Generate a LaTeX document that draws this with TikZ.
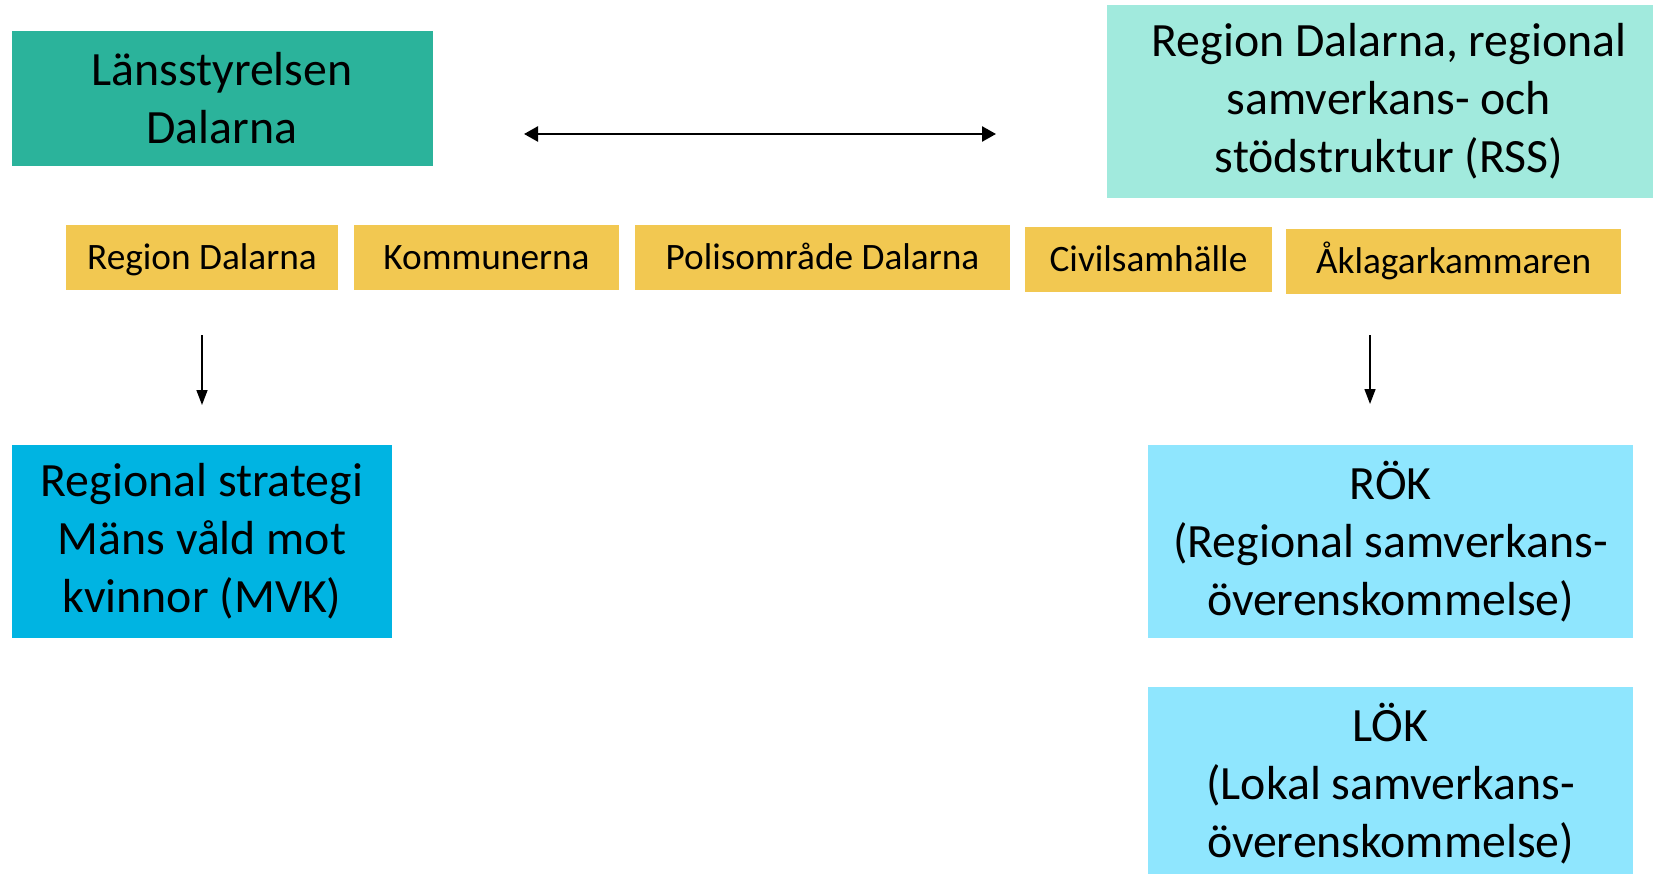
\documentclass[tikz,border=0pt]{standalone}
\usepackage{fontspec}
\setmainfont{Carlito}
\usetikzlibrary{arrows.meta}
\definecolor{lanscol}{RGB}{43,179,155}
\definecolor{rsscol}{RGB}{161,234,221}
\definecolor{yelcol}{RGB}{242,200,81}
\definecolor{mvkcol}{RGB}{0,180,226}
\definecolor{rokcol}{RGB}{143,230,254}
\tikzset{
  bigbox/.style={inner sep=0pt, outer sep=0pt, align=center, text=black, font=\fontsize{47.8}{58}\selectfont},
  smallbox/.style={inner sep=0pt, outer sep=0pt, align=center, text=black, fill=yelcol, minimum height=65pt, text height=30pt, text depth=5.2pt, font=\fontsize{37.3}{44}\selectfont},
  dblarrow/.style={line width=2.5pt, {Triangle[length=14pt,width=15pt]}-{Triangle[length=14pt,width=15pt]}},
  downarrow/.style={line width=1.5pt, -{Triangle[length=15pt,width=11pt]}}
}
\begin{document}
\begin{tikzpicture}[x=1pt,y=-1pt]
\clip (0,0) rectangle (1653,874);
\fill[white] (0,0) rectangle (1653,874);
\node[bigbox, fill=lanscol, minimum width=421pt, minimum height=135pt] (lans) at (222,98.5) {Länsstyrelsen\\Dalarna};
\node[bigbox, fill=rsscol, minimum width=564pt, minimum height=193pt] (rss) at (1389,101.5) {Region Dalarna, regional\\samverkans- och\\stödstruktur (RSS)};
\coordinate (da) at (524,134);
\coordinate (db) at (996,134);
\draw[dblarrow] (da) -- (db);
\node[smallbox, minimum width=272pt] (y1) at (202,257.5) {Region Dalarna};
\node[smallbox, minimum width=265pt] (y2) at (486.5,257.5) {Kommunerna};
\node[smallbox, minimum width=375pt] (y3) at (822.5,257.5) {Polisområde Dalarna};
\node[smallbox, minimum width=247pt] (y4) at (1148.5,259.5) {Civilsamhälle};
\node[smallbox, minimum width=335pt] (y5) at (1453.5,261.5) {Åklagarkammaren};
\coordinate (la) at (202,335);
\coordinate (lb) at (202,405);
\coordinate (ra) at (1370,335);
\coordinate (rb) at (1370,404);
\draw[downarrow] (la) -- (lb);
\draw[downarrow] (ra) -- (rb);
\node[bigbox, fill=mvkcol, minimum width=380pt, minimum height=193pt] (mvk) at (202,541.5) {Regional strategi\\Mäns våld mot\\kvinnor (MVK)};
\node[bigbox, fill=rokcol, minimum width=485pt, minimum height=193pt] (rok) at (1390.5,541.5) {RÖK\\(Regional samverkans-\\överenskommelse)};
\node[bigbox, fill=rokcol, minimum width=485pt, minimum height=193pt] (lok) at (1390.5,783.5) {LÖK\\(Lokal samverkans-\\överenskommelse)};
\end{tikzpicture}
\end{document}
